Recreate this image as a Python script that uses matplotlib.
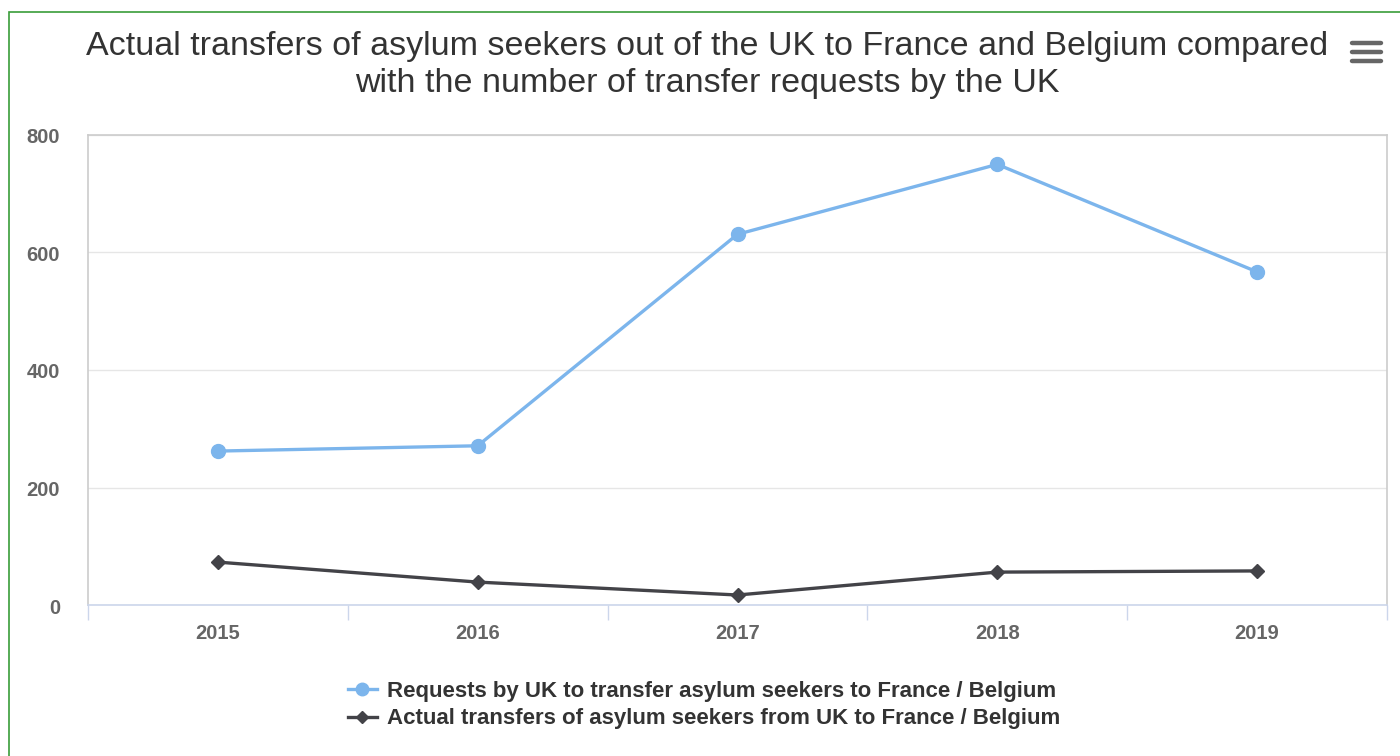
import matplotlib.pyplot as plt
import matplotlib.transforms as mtransforms
from matplotlib.lines import Line2D
from matplotlib.patches import Rectangle

plt.rcParams['font.family'] = ['Liberation Sans', 'DejaVu Sans']

# data
years = ['2015', '2016', '2017', '2018', '2019']
requests = [262, 271, 631, 750, 567]
transfers = [73, 39, 17, 56, 58]

title = ('Actual transfers of asylum seekers out of the UK to France and Belgium compared\n'
         'with the number of transfer requests by the UK')
label_req = 'Requests by UK to transfer asylum seekers to France / Belgium'
label_tr = 'Actual transfers of asylum seekers from UK to France / Belgium'

W, H = 1400, 756
fig = plt.figure(figsize=(14, 7.56), dpi=100)

# plot area in pixels: left 88, top 135, right 1387, bottom 605
ax = fig.add_axes([88 / W, 1 - 605 / H, (1387 - 88) / W, (605 - 135) / H])

x = list(range(len(years)))
ax.plot(x, requests, color='#7cb5ec', lw=2.4, marker='o', ms=10, zorder=3)
ax.plot(x, transfers, color='#434348', lw=2.4, marker='D', ms=7, zorder=3)

ax.set_xlim(-0.5, len(years) - 0.5)
ax.set_ylim(0, 800)
ax.set_yticks([0, 200, 400, 600, 800])
ax.set_yticklabels(['0', '200', '400', '600', '800'])
ax.grid(axis='y', color='#e6e6e6', lw=1)
ax.set_axisbelow(True)

# x ticks on category boundaries, labels centered
ax.set_xticks([i - 0.5 for i in range(len(years) + 1)])
ax.set_xticklabels([])
ax.set_xticks(x, minor=True)
ax.set_xticklabels(years, minor=True)
ax.tick_params(axis='x', which='major', length=11, width=1, color='#ccd6eb', direction='out')
ax.tick_params(axis='x', which='minor', length=0, pad=14, labelsize=14.5, labelcolor='#666666')
for t in ax.get_xticklabels(minor=True):
    t.set_fontweight('bold')
ax.tick_params(axis='y', length=0, pad=20, labelsize=14.5, labelcolor='#666666')
shift = mtransforms.ScaledTranslation(0, -3 / 100, fig.dpi_scale_trans)
for t in ax.get_yticklabels():
    t.set_fontweight('bold')
    t.set_va('center')
    t.set_transform(t.get_transform() + shift)

for s in ['top', 'left', 'right']:
    ax.spines[s].set_color('#cccccc')
    ax.spines[s].set_linewidth(1.2)
ax.spines['bottom'].set_color('#ccd6eb')
ax.spines['bottom'].set_linewidth(1.2)

# title
fig.text(707 / W, 1 - 65 / H, title, ha='center', va='center', fontsize=24.5,
         color='#333333', linespacing=1.28)

# hamburger menu icon
for yy in [43, 52, 61]:
    fig.add_artist(Line2D([1352 / W, 1381 / W], [1 - yy / H, 1 - yy / H],
                          color='#666666', lw=3.2, solid_capstyle='round'))

# green frame
fig.add_artist(Rectangle((9 / W, -0.05), 1.2, 1 - 12 / H + 0.05, fill=False,
                         edgecolor='#3a9d3a', lw=1.2, transform=fig.transFigure))

# legend
handles = [Line2D([], [], color='#7cb5ec', lw=2.4, marker='o', ms=9),
           Line2D([], [], color='#434348', lw=2.4, marker='D', ms=6.5)]
leg = fig.legend(handles, [label_req, label_tr], loc='center',
                 bbox_to_anchor=(704 / W, 1 - 705 / H), frameon=False,
                 prop={'size': 16, 'weight': 'bold'}, handlelength=1.3,
                 handletextpad=0.45, labelspacing=0.3, labelcolor='#333333')

fig.savefig('out.png', dpi=100)
